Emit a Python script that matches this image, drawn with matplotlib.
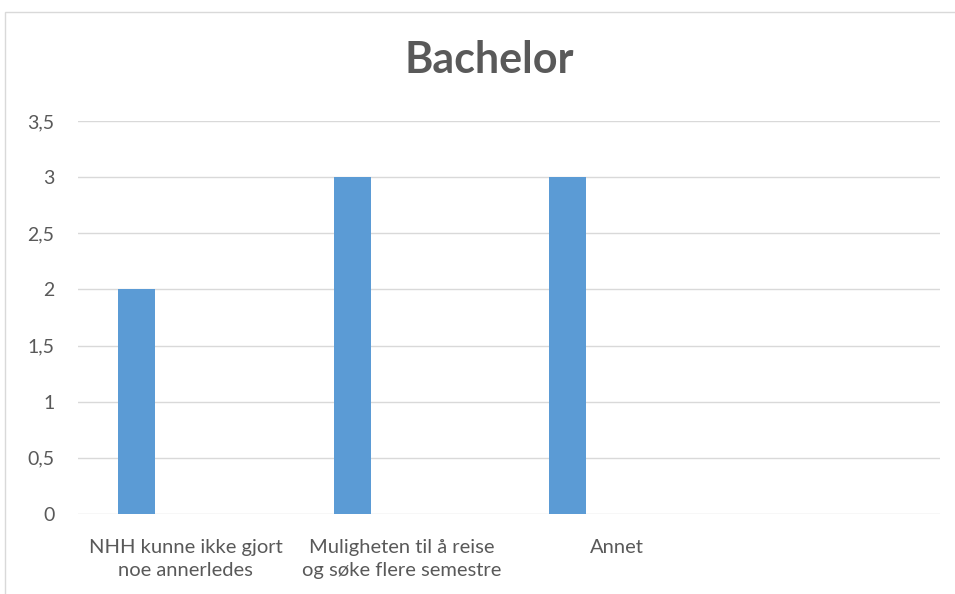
import matplotlib.pyplot as plt
from matplotlib.patches import Rectangle

categories = ['NHH kunne ikke gjort\nnoe annerledes',
              'Muligheten til å reise\nog søke flere semestre',
              'Annet',
              '']
values = [2, 3, 3, 0]
yticks = [0, 0.5, 1, 1.5, 2, 2.5, 3, 3.5]

col_bar = '#5B9BD5'
col_grid = '#D9D9D9'
col_text = '#595959'

plt.rcParams['font.family'] = ['Lato', 'DejaVu Sans']

fig = plt.figure(figsize=(9.55, 5.94), dpi=100)
ax = fig.add_axes([78 / 955, 80 / 594, 862 / 955, 393 / 594])

# outer chart border (runs off the right/bottom edge)
fig.patches.append(Rectangle((5 / 955, -0.1), 1.2, (594 - 12) / 594 + 0.1,
                             transform=fig.transFigure, fill=False,
                             edgecolor=col_grid, linewidth=1))

x = list(range(len(categories)))
offset = -0.227
ax.bar([i + offset for i in x[:3]], values[:3], width=0.172, color=col_bar, zorder=3)

ax.set_xlim(-0.5, 3.5)
ax.set_ylim(0, 3.5)
ax.set_yticks(yticks)
ax.set_yticklabels([f'{t:g}'.replace('.', ',') for t in yticks], color=col_text, fontsize=14)
ax.set_xticks(x)
ax.set_xticklabels(categories, color=col_text, fontsize=14.5, linespacing=1.45)
ax.tick_params(length=0, pad=18, axis='x')
ax.tick_params(length=0, pad=17, axis='y')
ax.yaxis.grid(True, color=col_grid, linewidth=1, zorder=0)
for s in ax.spines.values():
    s.set_visible(False)

fig.text(489 / 955, 1 - 60 / 594, 'Bachelor', ha='center', va='center',
         fontsize=31, fontweight='bold', color=col_text)

fig.savefig('out.png', dpi=100)
